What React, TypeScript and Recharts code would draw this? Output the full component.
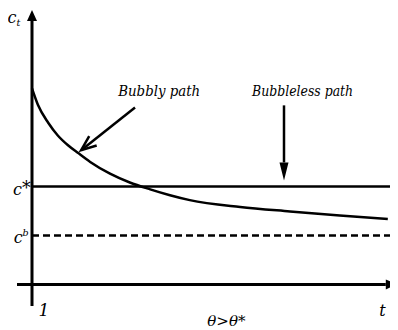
import React from "react";
import {
  LineChart,
  Line,
  XAxis,
  YAxis,
  ReferenceLine,
  ReferenceDot,
} from "recharts";

// bubbly consumption path c_t over time
const T_VALUES = [0, 0.1, 0.27, 0.43, 0.6, 0.77, 0.97, 1.3, 1.63, 1.97, 2.3, 2.63, 3.47, 4.3, 5.13, 5.93];
const BUBBLY_PATH = [2.0, 1.83, 1.65, 1.52, 1.42, 1.34, 1.25, 1.13, 1.04, 0.97, 0.91, 0.86, 0.79, 0.745, 0.704, 0.668];

// steady-state levels
const C_STAR = 1.0;
const C_B = 0.5;
const T_END = 5.97;

// axis extents
const T_MIN = -0.25;
const T_MAX = 6.1;
const C_MIN = -0.22;
const C_MAX = 2.8;

const FONT = "DejaVu Serif";

const data = T_VALUES.map((t, i) => ({ t, c: BUBBLY_PATH[i] }));

type Pt = { x: number; y: number };

// line with an arrow head at (x2, y2)
function ArrowShape(props: any) {
  const { x1, y1, x2, y2, stroke, strokeWidth, head = "filled", len = 11, half = 5 } = props;
  const dx = x2 - x1;
  const dy = y2 - y1;
  const d = Math.sqrt(dx * dx + dy * dy) || 1;
  const ux = dx / d;
  const uy = dy / d;
  const bx = x2 - ux * len;
  const by = y2 - uy * len;
  const p1: Pt = { x: bx - uy * half, y: by + ux * half };
  const p2: Pt = { x: bx + uy * half, y: by - ux * half };
  if (head === "open") {
    return (
      <g>
        <line x1={x1} y1={y1} x2={x2} y2={y2} stroke={stroke} strokeWidth={strokeWidth} />
        <polyline
          points={`${p1.x},${p1.y} ${x2},${y2} ${p2.x},${p2.y}`}
          fill="none"
          stroke={stroke}
          strokeWidth={strokeWidth}
        />
      </g>
    );
  }
  return (
    <g>
      <line x1={x1} y1={y1} x2={bx} y2={by} stroke={stroke} strokeWidth={strokeWidth} />
      <polygon points={`${x2},${y2} ${p1.x},${p1.y} ${p2.x},${p2.y}`} fill={stroke} />
    </g>
  );
}

// italic math-style label: base letter with optional sub/superscript
function MathLabel(props: any) {
  const { cx, cy, base, sub, sup, star, size = 16, width } = props;
  const fit = width ? { textLength: width, lengthAdjust: "spacingAndGlyphs" } : {};
  return (
    <text
      x={cx}
      y={cy}
      fontFamily={FONT}
      fontStyle="italic"
      fontSize={size}
      fill="#000"
      textAnchor="middle"
      {...fit}
    >
      {base}
      {sub && (
        <tspan fontSize={size * 0.6} dy={3}>
          {sub}
        </tspan>
      )}
      {sup && (
        <tspan fontSize={size * 0.6} dy={-7}>
          {sup}
        </tspan>
      )}
      {star && (
        <tspan fontSize={size * 1.1} fontStyle="normal" dy={-1}>
          *
        </tspan>
      )}
    </text>
  );
}

const TEXT_LABELS = [
  { t: -0.3, c: 2.67, base: "c", sub: "t", size: 16 },
  { t: -0.17, c: 0.91, base: "c", star: true, size: 16 },
  { t: -0.18, c: 0.42, base: "c", sup: "b", size: 16 },
  { t: 0.2, c: -0.32, base: "1", size: 17 },
  { t: 5.84, c: -0.32, base: "t", size: 16 },
  { t: 3.24, c: -0.42, base: "θ>θ*", size: 15 },
  { t: 2.12, c: 1.92, base: "Bubbly path", size: 15, width: 82 },
  { t: 4.51, c: 1.92, base: "Bubbleless path", size: 15, width: 101 },
];

export default function App() {
  return (
    <LineChart
      width={390}
      height={322}
      data={data}
      margin={{ top: 2, right: 0, bottom: 24, left: 9 }}
    >
      <XAxis type="number" dataKey="t" domain={[T_MIN, T_MAX]} hide allowDataOverflow />
      <YAxis type="number" domain={[C_MIN, C_MAX]} hide allowDataOverflow />

      {/* axes */}
      <ReferenceLine
        segment={[{ x: T_MIN, y: 0 }, { x: T_MAX - 0.02, y: 0 }]}
        stroke="#000"
        strokeWidth={3}
        ifOverflow="visible"
        shape={(p: any) => <ArrowShape {...p} len={11} half={5} />}
      />
      <ReferenceLine
        segment={[{ x: 0, y: C_MIN }, { x: 0, y: C_MAX }]}
        stroke="#000"
        strokeWidth={3}
        ifOverflow="visible"
        shape={(p: any) => <ArrowShape {...p} len={11} half={5} />}
      />

      {/* levels */}
      <ReferenceLine segment={[{ x: 0, y: C_STAR }, { x: T_END, y: C_STAR }]} stroke="#000" strokeWidth={2.5} />
      <ReferenceLine
        segment={[{ x: 0, y: C_B }, { x: T_END, y: C_B }]}
        stroke="#000"
        strokeWidth={2.5}
        strokeDasharray="7 4"
      />

      {/* annotation arrows */}
      <ReferenceLine
        segment={[{ x: 1.717, y: 1.806 }, { x: 0.82, y: 1.37 }]}
        stroke="#000"
        strokeWidth={2.5}
        shape={(p: any) => <ArrowShape {...p} head="open" len={15} half={6} />}
      />
      <ReferenceLine
        segment={[{ x: 4.2, y: 1.827 }, { x: 4.2, y: 1.061 }]}
        stroke="#000"
        strokeWidth={2.5}
        shape={(p: any) => <ArrowShape {...p} len={18} half={4.5} />}
      />

      <Line
        type="monotone"
        dataKey="c"
        stroke="#000"
        strokeWidth={2.5}
        dot={false}
        isAnimationActive={false}
      />

      {TEXT_LABELS.map((l, i) => (
        <ReferenceDot
          key={i}
          x={l.t}
          y={l.c}
          r={0}
          ifOverflow="visible"
          shape={(p: any) => (
            <MathLabel
              cx={p.cx}
              cy={p.cy}
              base={l.base}
              sub={l.sub}
              sup={l.sup}
              star={l.star}
              size={l.size}
              width={l.width}
            />
          )}
        />
      ))}
    </LineChart>
  );
}
